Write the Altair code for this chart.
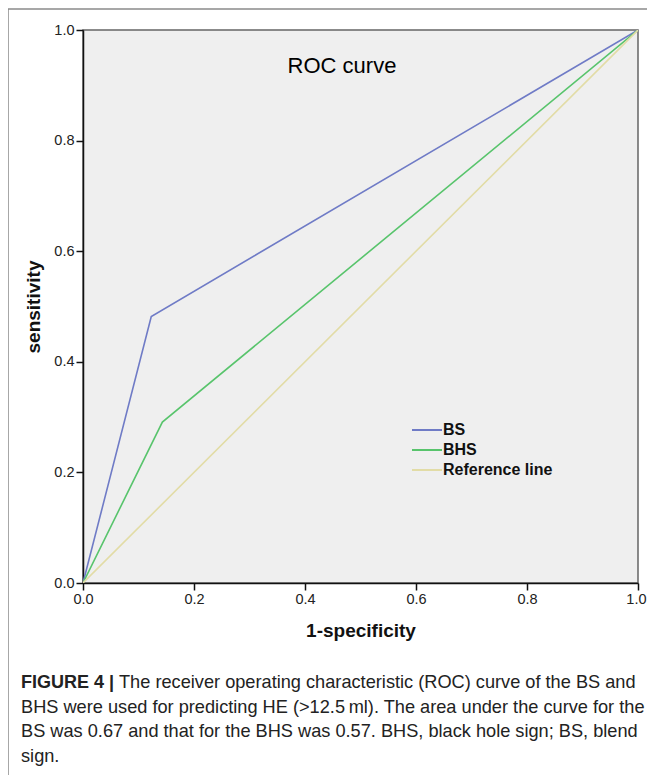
import altair as alt
import pandas as pd

# ---- data ----
bs_fpr = [0.0, 0.123, 1.0]
bs_tpr = [0.0, 0.482, 1.0]
bhs_fpr = [0.0, 0.143, 1.0]
bhs_tpr = [0.0, 0.291, 1.0]
ref_fpr = [0.0, 1.0]
ref_tpr = [0.0, 1.0]
series_names = ["BS", "BHS", "Reference line"]
series_colors = ["#6f7bc6", "#58c46c", "#e2dca6"]
axis_ticks = [0.0, 0.2, 0.4, 0.6, 0.8, 1.0]
plot_title = "ROC curve"
x_title = "1-specificity"
y_title = "sensitivity"
caption_bold = "FIGURE 4 |"
caption_lines = [
    "The receiver operating characteristic (ROC) curve of the BS and",
    "BHS were used for predicting HE (>12.5\u2009ml). The area under the curve for the",
    "BS was 0.67 and that for the BHS was 0.57. BHS, black hole sign; BS, blend",
    "sign.",
]

rows = []
for name, xs, ys in [("BS", bs_fpr, bs_tpr), ("BHS", bhs_fpr, bhs_tpr), ("Reference line", ref_fpr, ref_tpr)]:
    for i, (a, b) in enumerate(zip(xs, ys)):
        rows.append({"series": name, "fpr": a, "tpr": b, "order": i})
df = pd.DataFrame(rows)

W, H = 555, 553
FONT = "Liberation Sans"

lines = alt.Chart(df).mark_line(strokeWidth=1.6, clip=True).encode(
    x=alt.X("fpr:Q", scale=alt.Scale(domain=[0, 1], nice=False),
            axis=alt.Axis(values=axis_ticks, format=".1f", title=x_title, grid=False,
                          domainColor="#111", tickColor="#111", tickSize=7, domainWidth=1.5,
                          tickWidth=1.5, labelFontSize=14.5, labelColor="#222", labelFont=FONT,
                          labelPadding=2, titleFont=FONT, titleFontSize=19, titleFontWeight="bold",
                          titleColor="#111", titlePadding=16, labelFlush=False,
                          labelAlign=alt.ExprRef(expr="datum.value === 1 ? 'right' : 'center'"),
                          labelOffset=alt.ExprRef(expr="datum.value === 1 ? 8 : 0"))),
    y=alt.Y("tpr:Q", scale=alt.Scale(domain=[0, 1], nice=False),
            axis=alt.Axis(values=axis_ticks, format=".1f", title=y_title, grid=False,
                          domainColor="#111", tickColor="#111", tickSize=7, domainWidth=1.5,
                          tickWidth=1.5, labelFontSize=14.5, labelColor="#222", labelFont=FONT,
                          labelPadding=2, titleFont=FONT, titleFontSize=19, titleFontWeight="bold",
                          titleColor="#111", titlePadding=10, labelFlush=False)),
    color=alt.Color("series:N",
                    scale=alt.Scale(domain=series_names, range=series_colors),
                    sort=series_names,
                    legend=alt.Legend(title=None, orient="none", legendX=328, legendY=390,
                                      symbolType="stroke", symbolSize=900, symbolStrokeWidth=2,
                                      labelFont=FONT, labelFontSize=16, labelFontWeight="bold",
                                      labelColor="#111", rowPadding=0, clipHeight=20,
                                      labelOffset=0)),
    order="order:Q",
)

dummy = pd.DataFrame({"a": [0]})

border = alt.Chart(dummy).mark_rect(fill=None, stroke="#8a8a8a", strokeWidth=1.5, clip=False).encode(
    x=alt.value(-75), y=alt.value(-21), x2=alt.value(600), y2=alt.value(800)
)

title_text = alt.Chart(pd.DataFrame({"t": [plot_title]})).mark_text(
    font=FONT, fontSize=22, color="#000", align="center", baseline="middle"
).encode(x=alt.value(259), y=alt.value(36), text="t:N")

cap_bold = alt.Chart(pd.DataFrame({"t": [caption_bold]})).mark_text(
    font=FONT, fontSize=18, fontWeight="bold", color="#222", align="left", baseline="middle"
).encode(x=alt.value(-62), y=alt.value(653), text="t:N")

cap_parts = []
for i, line in enumerate(caption_lines):
    x0 = 36 if i == 0 else -62
    cap_parts.append(
        alt.Chart(pd.DataFrame({"t": [line]})).mark_text(
            font=FONT, fontSize=18.2, color="#222", align="left", baseline="middle"
        ).encode(x=alt.value(x0), y=alt.value(653 + 24.7 * i), text="t:N")
    )

chart = alt.layer(border, lines, title_text, cap_bold, *cap_parts).properties(
    width=W, height=H,
    autosize=alt.AutoSizeParams(type="none"),
    padding={"left": 75, "top": 22, "right": 9, "bottom": 192},
    background="white",
).configure_view(fill="#efefef", stroke="#666", strokeWidth=1.5)

chart.save("out.html", embed_options={"renderer": "svg", "actions": False})
